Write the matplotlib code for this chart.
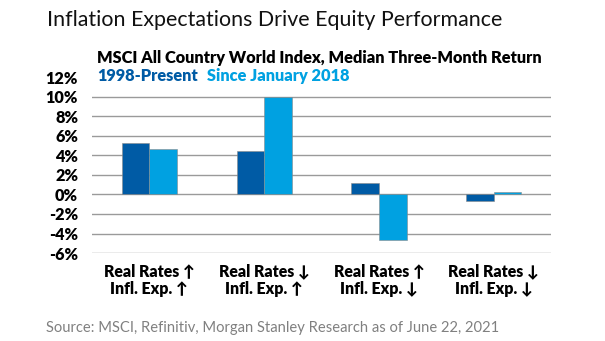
import numpy as np
import matplotlib.pyplot as plt

# Median three-month return (%) for each real-rate / inflation-expectation regime
regimes = ['Real Rates \u2191\nInfl. Exp. \u2191', 'Real Rates \u2193\nInfl. Exp. \u2191',
           'Real Rates \u2191\nInfl. Exp. \u2193', 'Real Rates \u2193\nInfl. Exp. \u2193']
since_1998 = [5.3, 4.5, 1.2, -0.7]
since_2018 = [4.7, 10.0, -4.7, 0.3]
yticks = [-6, -4, -2, 0, 2, 4, 6, 8, 10, 12]

dark_blue = '#005BA5'
light_blue = '#00A1E1'
fonts = ['Lato', 'DejaVu Sans']
plt.rcParams['font.family'] = fonts

fig = plt.figure(figsize=(6.05, 3.41), dpi=100)
ax = fig.add_axes([0.152, 0.258, 0.759, 0.515])

x = np.arange(len(regimes))
w = 0.24
ax.bar(x - w / 2, since_1998, w, color=dark_blue, edgecolor='#8a8a8a', linewidth=0.4, zorder=3)
ax.bar(x + w / 2, since_2018, w, color=light_blue, edgecolor='#8a8a8a', linewidth=0.4, zorder=3)

# gridlines only up to 10%, the 12% row holds the legend
for t in yticks[:-1]:
    ax.axhline(t, color='#9a9a9a', linewidth=1.0, zorder=1)

ax.set_xlim(-0.5, 3.5)
ax.set_ylim(-6, 12)
ax.set_yticks(yticks)
ax.set_yticklabels([f'{t}%' for t in yticks], fontsize=11.7, fontweight='heavy')
ax.set_xticks(x)
ax.set_xticklabels(regimes, fontsize=11.4, fontweight='heavy', linespacing=1.2)
ax.tick_params(length=0)
ax.tick_params(axis='x', pad=7)
ax.tick_params(axis='y', pad=10)
for s in ax.spines.values():
    s.set_visible(False)

fig.text(0.078, 0.924, 'Inflation Expectations Drive Equity Performance',
         fontsize=15.4, va='baseline', color='#111111')
fig.text(0.160, 0.815, 'MSCI All Country World Index, Median Three-Month Return',
         fontsize=11.8, fontweight='heavy', va='baseline')
fig.text(0.160, 0.762, '1998-Present', fontsize=11.8, fontweight='heavy',
         color=dark_blue, va='baseline')
fig.text(0.342, 0.762, 'Since January 2018', fontsize=11.8, fontweight='heavy',
         color=light_blue, va='baseline')
fig.text(0.076, 0.026, 'Source: MSCI, Refinitiv, Morgan Stanley Research as of June 22, 2021',
         fontsize=10.6, color='#808080', va='baseline')

fig.savefig('out.png', dpi=100)
